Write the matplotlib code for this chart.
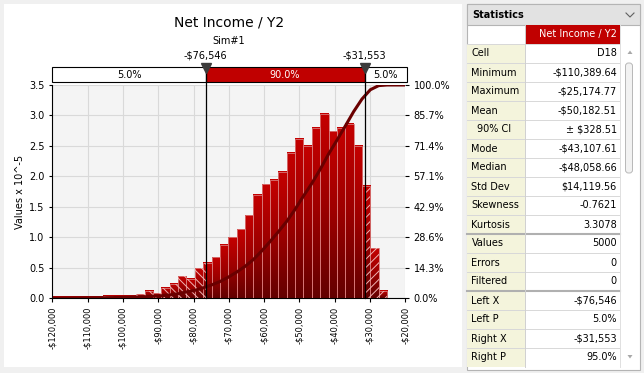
import numpy as np
import matplotlib.pyplot as plt
from matplotlib.patches import Rectangle, FancyBboxPatch, Polygon
from matplotlib.colors import LinearSegmentedColormap

plt.rcParams['font.family'] = ['DejaVu Sans']
plt.rcParams['hatch.linewidth'] = 0.7

# ---- data ----
title = "Net Income / Y2"
sim_name = "Sim#1"
x_min, x_max = -110389.64, -25174.77
n_bins_range = 36          # bins between min and max
left_x, right_x = -76546, -31553
left_p, right_p = 5.0, 95.0

# bar heights (values x 10^-5), left to right
density = [0.017, 0.017, 0.017, 0.017, 0.017, 0.017,
           0.034, 0.034, 0.034, 0.034, 0.065, 0.12,
           0.08, 0.165, 0.23, 0.36, 0.315, 0.49,
           0.575, 0.67, 0.87, 1.00, 1.13, 1.36,
           1.70, 1.87, 1.94, 2.07, 2.38, 2.62,
           2.50, 2.79, 3.02, 2.74, 2.80, 2.86,
           2.50, 1.84, 0.82, 0.12]

x_ticks = list(range(-120000, -19999, 10000))
y_ticks = [0.0, 0.5, 1.0, 1.5, 2.0, 2.5, 3.0, 3.5]

stat_rows = [("Cell", "D18"),
             ("Minimum", "-$110,389.64"),
             ("Maximum", "-$25,174.77"),
             ("Mean", "-$50,182.51"),
             ("90% CI", "\u00b1 $328.51"),
             ("Mode", "-$43,107.61"),
             ("Median", "-$48,058.66"),
             ("Std Dev", "$14,119.56"),
             ("Skewness", "-0.7621"),
             ("Kurtosis", "3.3078"),
             ("Values", "5000"),
             ("Errors", "0"),
             ("Filtered", "0"),
             ("Left X", "-$76,546"),
             ("Left P", "5.0%"),
             ("Right X", "-$31,553"),
             ("Right P", "95.0%")]
group_breaks = [10, 13]    # thicker line above these rows

W, H = 644, 373
fig = plt.figure(figsize=(W / 100, H / 100), dpi=100, facecolor='#f0f0f0')

# background layer in pixel coordinates
bg = fig.add_axes([0, 0, 1, 1], zorder=-1)
bg.set_xlim(0, W)
bg.set_ylim(H, 0)
bg.axis('off')
bg.add_patch(Rectangle((4, 4), 458, 363, facecolor='white', edgecolor='none'))

# ---- statistics panel ----
px0, px1, pcol, pval = 467, 640, 525, 620
bg.add_patch(Rectangle((px0, 4), px1 - px0, 366, facecolor='white',
                       edgecolor='#b4b4b4', lw=0.8))
bg.add_patch(Rectangle((px0, 4), px1 - px0, 21, facecolor='#e2e2e2',
                       edgecolor='#b4b4b4', lw=0.8))
bg.text(px0 + 5, 15, "Statistics", fontsize=7, fontweight='bold',
        va='center', ha='left')
bg.plot([626, 630, 634], [13, 17, 13], color='#606060', lw=0.8)
bg.add_patch(Rectangle((pcol, 25), pval - pcol, 19, facecolor='#c00000',
                       edgecolor='none'))
bg.text(pval - 3, 34.5, title, fontsize=7, color='white', ha='right', va='center')
row_h = 19
for i, (lab, val) in enumerate(stat_rows):
    top = 44 + i * row_h
    bg.add_patch(Rectangle((px0, top), pcol - px0, row_h, facecolor='#f4f4dc',
                           edgecolor='none'))
    bg.plot([px0, pval], [top, top], color='#d8d8d8', lw=0.7)
    indent = 10 if lab == "90% CI" else 4.5
    bg.text(px0 + indent, top + row_h / 2, lab, fontsize=7, ha='left', va='center')
    bg.text(pval - 3, top + row_h / 2, val, fontsize=7, ha='right', va='center')
for b in group_breaks:
    y = 44 + b * row_h
    bg.plot([px0, pval], [y, y], color='#b0b0b0', lw=1.5)
bg.plot([pcol, pcol], [25, 367], color='#d0d0d0', lw=0.7)
bg.plot([pval, pval], [25, 367], color='#e0e0e0', lw=0.7)
# scrollbar
bg.add_patch(Polygon([[627.5, 54], [632.5, 54], [630, 50.5]], closed=True,
                     facecolor='#a8a8a8', edgecolor='none'))
bg.add_patch(Polygon([[627.5, 355], [632.5, 355], [630, 358.5]], closed=True,
                     facecolor='#a8a8a8', edgecolor='none'))
bg.add_patch(FancyBboxPatch((625.5, 63), 7, 110,
                            boxstyle="round,pad=0,rounding_size=3",
                            facecolor='#f2f2f2', edgecolor='#b8b8b8', lw=0.7))

# ---- histogram chart ----
ax = fig.add_axes([52.3 / W, (H - 298.3) / H, 353 / W, 213.3 / H])
ax.set_facecolor('#f4f4f4')
ax.grid(True, color='#d9d9d9', lw=0.8)
ax.set_axisbelow(True)

width = (x_max - x_min) / n_bins_range
n = len(density)
edges = x_max - width * np.arange(n, -1, -1)

cmap = LinearSegmentedColormap.from_list('bar', ['#640000', '#9c0000', '#c40000'])
grad = np.linspace(0, 1, 64).reshape(-1, 1)
for x0, x1, h in zip(edges[:-1], edges[1:], density):
    ax.imshow(grad, extent=(x0, x1, 0, h), origin='lower', cmap=cmap,
              aspect='auto', zorder=2, interpolation='bilinear')

ax.bar(edges[:-1], density, width=width, align='edge', facecolor='none',
       edgecolor='#d87878', lw=0.6, zorder=3)

# hatched tails
for x0, x1, h in zip(edges[:-1], edges[1:], density):
    if x0 < left_x:
        ax.bar(x0, h, width=min(x1, left_x) - x0, align='edge', facecolor='none',
               edgecolor='#f0b4b4', hatch='\\\\\\\\', lw=0, zorder=3)
    if x1 > right_x:
        s = max(x0, right_x)
        ax.bar(s, h, width=x1 - s, align='edge', facecolor='none',
               edgecolor='#f0b4b4', hatch='////', lw=0, zorder=3)

ax.set_xlim(-120000, -20000)
ax.set_ylim(0, 3.5)
ax.set_xticks(x_ticks)
ax.set_xticklabels([f"-${abs(v):,}" for v in x_ticks], rotation=90, fontsize=6)
ax.set_yticks(y_ticks)
ax.set_yticklabels([f"{v:.1f}" for v in y_ticks], fontsize=7)
ax.tick_params(axis='x', length=3, width=0.8, pad=3, colors='#000000')
ax.tick_params(axis='y', length=2.5, width=0.8, pad=3, colors='#000000')
for s in ['top', 'right']:
    ax.spines[s].set_visible(False)
for s in ['left', 'bottom']:
    ax.spines[s].set_color('black')
    ax.spines[s].set_linewidth(0.8)

# cumulative curve on right axis
ax2 = ax.twinx()
cdf = np.concatenate([[0.0], np.cumsum(density)]) / np.sum(density)
ax2.plot(list(edges) + [-20000], list(cdf) + [1.0], color='#6a0000', lw=2.2,
         solid_capstyle='butt', zorder=4)
ax2.set_ylim(0, 1)
pct_ticks = np.arange(8) / 7
ax2.set_yticks(pct_ticks)
ax2.set_yticklabels([f"{t * 100:.1f}%" for t in pct_ticks], fontsize=7)
ax2.tick_params(axis='y', length=3, width=0.8, pad=3, colors='#000000')
for s in ax2.spines.values():
    s.set_visible(False)
ax.set_xlim(-120000, -20000)

# percentile strip and markers
tr = ax2.get_xaxis_transform()
sy0, sy1 = 1.0141, 1.083
segs = [(-120000, left_x, 'white', 'black', f"{left_p:.1f}%"),
        (left_x, right_x, '#c00000', 'white', f"{right_p - left_p:.1f}%"),
        (right_x, -19600, 'white', 'black', f"{100 - right_p:.1f}%")]
for a, b, fc, tc, lab in segs:
    ax2.add_patch(Rectangle((a, sy0), b - a, sy1 - sy0, transform=tr,
                            facecolor=fc, edgecolor='black', lw=0.8,
                            clip_on=False, zorder=5))
    ax2.text((a + b) / 2, (sy0 + sy1) / 2, lab, transform=tr, fontsize=7,
             color=tc, ha='center', va='center', zorder=6)
for xv in [left_x, right_x]:
    ax2.plot([xv, xv], [0, sy1], transform=tr, color='black', lw=0.9,
             clip_on=False, zorder=6)
    ax2.plot([xv], [1.079], transform=tr, marker='v', markersize=6.5,
             color='#3c3c3c', clip_on=False, zorder=7)
    ax2.text(xv, 1.136, f"-${abs(xv):,}", transform=tr, fontsize=7,
             ha='center', va='center')

ax2.text(0.5, 1.206, sim_name, transform=ax2.transAxes, fontsize=7,
         ha='center', va='center')
ax2.text(0.5, 1.292, title, transform=ax2.transAxes, fontsize=10,
         ha='center', va='center')
bg.text(20, 192, "Values x 10^-5", rotation=90, fontsize=7,
        ha='center', va='center')

fig.savefig("out.png", dpi=100, facecolor=fig.get_facecolor())
